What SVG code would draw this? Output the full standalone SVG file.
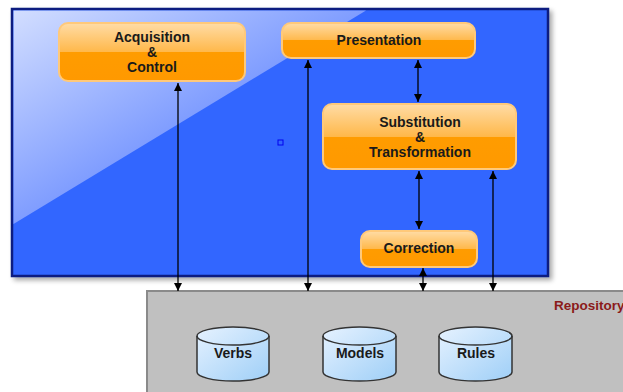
<svg xmlns="http://www.w3.org/2000/svg" width="623" height="392" viewBox="0 0 623 392">
<defs>
<linearGradient id="gloss" x1="0" y1="0" x2="1" y2="1">
<stop offset="0" stop-color="#e4ebff"/>
<stop offset="0.55" stop-color="#7f9cff"/>
<stop offset="1" stop-color="#5f82ff"/>
</linearGradient>
<linearGradient id="btn" x1="0" y1="0" x2="0" y2="1">
<stop offset="0" stop-color="#ffdca6"/>
<stop offset="0.5" stop-color="#ffb84a"/>
<stop offset="0.5" stop-color="#ff9c00"/>
<stop offset="1" stop-color="#ff9900"/>
</linearGradient>
<linearGradient id="cyl" x1="0" y1="0" x2="1" y2="1">
<stop offset="0" stop-color="#e6f2ff"/>
<stop offset="1" stop-color="#9fcff7"/>
</linearGradient>
<filter id="shadow" x="-5%" y="-5%" width="115%" height="115%">
<feGaussianBlur in="SourceAlpha" stdDeviation="2.5"/>
<feOffset dx="3" dy="3"/>
<feComponentTransfer><feFuncA type="linear" slope="0.35"/></feComponentTransfer>
<feMerge><feMergeNode/><feMergeNode in="SourceGraphic"/></feMerge>
</filter>
<marker id="arr" viewBox="0 0 10 10" refX="10" refY="5" markerWidth="8" markerHeight="8" markerUnits="userSpaceOnUse" orient="auto-start-reverse">
<path d="M0,0 L10,5 L0,10 Z" fill="#000"/>
</marker>
</defs>
<style>
.btn{fill:url(#btn);stroke:#ffc97a;stroke-width:2}
.lbl{font-family:"Liberation Sans",Arial,sans-serif;font-weight:bold;font-size:14px;fill:#1a1a1a;text-anchor:middle}
.cyl{fill:url(#cyl);stroke:#333;stroke-width:1.5}
.conn{stroke:#000;stroke-width:1.3;fill:none;marker-start:url(#arr);marker-end:url(#arr)}
</style>

<g id="repository">
<rect x="147" y="291" width="490" height="110" fill="#c0c0c0" stroke="#8a8a8a" stroke-width="2"/>
<text x="554" y="309.5" font-family="'Liberation Sans',Arial,sans-serif" font-weight="bold" font-size="13.5" fill="#8b1a1a">Repository</text>
</g>

<g id="system">
<rect x="12" y="9" width="536" height="267" fill="#3366ff" stroke="#0a1a80" stroke-width="2.5" filter="url(#shadow)"/>
<polygon points="13.5,10.5 366,10.5 13.5,224" fill="url(#gloss)" opacity="0.9"/>
<rect x="278" y="140" width="5" height="5" fill="none" stroke="#0000ee" stroke-width="1"/>
</g>

<g id="acquisition">
<rect class="btn" x="59" y="23" width="186" height="58" rx="9"/>
<text class="lbl" x="152" y="42">Acquisition</text>
<text class="lbl" x="152" y="56.5">&amp;</text>
<text class="lbl" x="152" y="71.5">Control</text>
</g>

<g id="presentation">
<rect class="btn" x="282" y="23" width="193" height="35" rx="9"/>
<text class="lbl" x="379" y="45">Presentation</text>
</g>

<g id="substitution">
<rect class="btn" x="323" y="104" width="193" height="65" rx="9"/>
<text class="lbl" x="420" y="126.5">Substitution</text>
<text class="lbl" x="420" y="141.5">&amp;</text>
<text class="lbl" x="420" y="156.5">Transformation</text>
</g>

<g id="correction">
<rect class="btn" x="361" y="231" width="116" height="36" rx="9"/>
<text class="lbl" x="419" y="253">Correction</text>
</g>

<g id="verbs">
<path class="cyl" d="M197,336 A36,9 0 0 1 269,336 L269,372 A36,9 0 0 1 197,372 Z"/>
<path d="M197,336 A36,9 0 0 0 269,336" fill="none" stroke="#333" stroke-width="1.5"/>
<text class="lbl" x="233" y="358">Verbs</text>
</g>

<g id="models">
<path class="cyl" d="M323,336 A36.5,9 0 0 1 396,336 L396,372 A36.5,9 0 0 1 323,372 Z"/>
<path d="M323,336 A36.5,9 0 0 0 396,336" fill="none" stroke="#333" stroke-width="1.5"/>
<text class="lbl" x="360" y="358">Models</text>
</g>

<g id="rules">
<path class="cyl" d="M439,336 A36.5,9 0 0 1 512,336 L512,372 A36.5,9 0 0 1 439,372 Z"/>
<path d="M439,336 A36.5,9 0 0 0 512,336" fill="none" stroke="#333" stroke-width="1.5"/>
<text class="lbl" x="476" y="358">Rules</text>
</g>

<g id="connectors">
<line class="conn" x1="178" y1="83" x2="178" y2="291"/>
<line class="conn" x1="308" y1="60" x2="308" y2="291"/>
<line class="conn" x1="418" y1="60" x2="418" y2="102"/>
<line class="conn" x1="419" y1="171" x2="419" y2="229"/>
<line class="conn" x1="423" y1="268" x2="423" y2="291"/>
<line class="conn" x1="493" y1="171" x2="493" y2="291"/>
</g>
</svg>
